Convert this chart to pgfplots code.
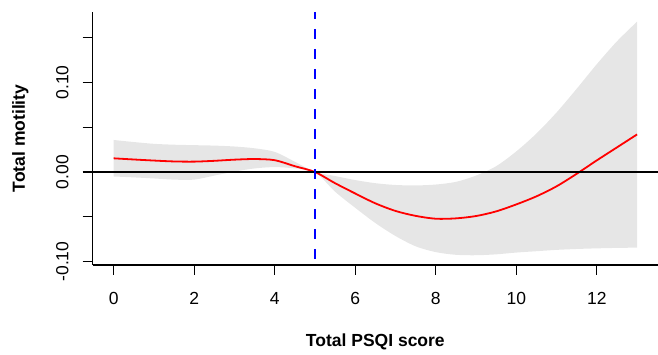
\documentclass[border=0pt]{standalone}
\usepackage{pgfplots}
\pgfplotsset{compat=1.18}
\usepgfplotslibrary{fillbetween}
\usepackage{fontspec}
\setmainfont{Liberation Sans}
\definecolor{bandgray}{RGB}{230,230,230}
\pgfplotstableread{
x upper lower fit
0    0.0358 -0.0050  0.0153
0.5  0.0335 -0.0060  0.0140
1    0.0315 -0.0072  0.0128
1.5  0.0305 -0.0085  0.0118
2    0.0300 -0.0085  0.0116
2.5  0.0295 -0.0040  0.0125
3    0.0285  0.0005  0.0138
3.5  0.0265  0.0040  0.0145
4    0.0225  0.0055  0.0132
4.5  0.0115  0.0040  0.0065
5    0.0000  0.0000  0.0000
5.5 -0.0045 -0.0220 -0.0125
6   -0.0090 -0.0400 -0.0240
6.5 -0.0125 -0.0570 -0.0350
7   -0.0145 -0.0715 -0.0435
7.5 -0.0150 -0.0830 -0.0490
8   -0.0140 -0.0895 -0.0522
8.5 -0.0110 -0.0925 -0.0518
9   -0.0040 -0.0930 -0.0492
9.5  0.0065 -0.0920 -0.0440
10   0.0230 -0.0900 -0.0362
10.5 0.0430 -0.0885 -0.0272
11   0.0665 -0.0870 -0.0160
11.5 0.0930 -0.0860 -0.0020
12   0.1205 -0.0853  0.0130
12.5 0.1460 -0.0848  0.0275
13   0.1680 -0.0845  0.0420
}\curvedata
\begin{document}
\begin{tikzpicture}
\begin{axis}[
  at={(0,0)}, anchor=south west, scale only axis,
  width=565.3pt, height=253pt,
  xmin=-0.52, xmax=13.52, ymin=-0.1039, ymax=0.1788,
  axis x line*=bottom, axis y line*=left,
  axis line style={line width=1.3pt, -},
  every tick/.style={black, line width=1.3pt},
  tick align=outside, major tick length=10pt,
  xtick={0,2,4,6,8,10,12}, xticklabels={0,2,4,6,8,10,12},
  ytick={-0.1,-0.05,0,0.05,0.1,0.15}, yticklabels={-0.10,,0.00,,0.10,},
  tick label style={font=\fontsize{17.5}{21}\selectfont, inner sep=0pt},
  xticklabel style={anchor=base, yshift=-29.3pt},
  yticklabel style={rotate=90, anchor=base, yshift=14.4pt},
  xlabel={Total PSQI score}, ylabel={Total motility},
  label style={font=\bfseries\fontsize{17.5}{21}\selectfont, inner sep=0pt},
  xlabel style={at={(axis description cs:0.5,0)}, yshift=-82pt, anchor=base},
  ylabel style={at={(axis description cs:0,0.5)}, anchor=base, yshift=67.7pt},
]
\addplot[name path=up, draw=none, smooth] table[x=x, y=upper] {\curvedata};
\addplot[name path=lo, draw=none, smooth] table[x=x, y=lower] {\curvedata};
\addplot[fill=bandgray, draw=none] fill between[of=up and lo];
\addplot[red, line width=1.8pt, smooth] table[x=x, y=fit] {\curvedata};
\addplot[black, line width=1.6pt] coordinates {(-0.52,0) (13.52,0)};
\addplot[blue, line width=2.8pt, dash pattern=on 10pt off 10pt, dash phase=2.7pt] coordinates {(5,0.1788) (5,-0.1039)};
\end{axis}
\pgfresetboundingbox
\useasboundingbox (-92.7pt,-90pt) rectangle (565.3pt,265pt);
\end{tikzpicture}
\end{document}
